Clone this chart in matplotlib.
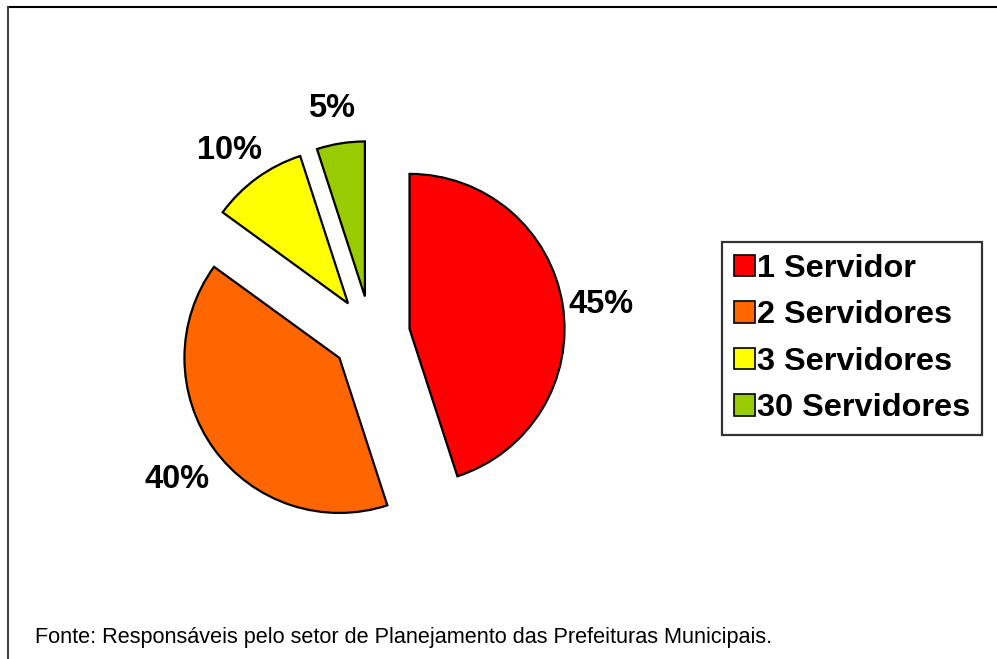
import matplotlib
matplotlib.use("Agg")
import matplotlib.pyplot as plt
from matplotlib.lines import Line2D

categories = ["1 Servidor", "2 Servidores", "3 Servidores", "30 Servidores"]
values = [45, 40, 10, 5]
colors = ["#FF0000", "#FF6600", "#FFFF00", "#99CC00"]
source_text = "Fonte: Responsáveis pelo setor de Planejamento das Prefeituras Municipais."

plt.rcParams['font.family'] = ['Liberation Sans', 'DejaVu Sans']

W, H = 997, 659
fig = plt.figure(figsize=(W / 100, H / 100), dpi=100)
ax = fig.add_axes([0, 0, 1, 1])

R = 155
wedges, texts, autotexts = ax.pie(
    values, colors=colors, startangle=90, counterclock=False,
    explode=[39] * 4, center=(371, H - 335), radius=R,
    autopct='%1.0f%%', pctdistance=1.27,
    wedgeprops=dict(edgecolor='black', linewidth=1.6),
    textprops=dict(fontsize=23.5, fontweight='bold', color='black'),
    frame=True,
)
for t in autotexts:
    x, y = t.get_position()
    t.set_position((x - 3, y - 6))
ax.set_xlim(0, W)
ax.set_ylim(0, H)
ax.set_aspect('auto')
ax.axis('off')

leg = fig.legend(wedges, categories, loc='upper left',
                 bbox_to_anchor=(722 / W, 1 - 242 / H),
                 prop=dict(size=23.4, weight='bold'),
                 frameon=True, fancybox=False, shadow=False,
                 edgecolor='black', handlelength=0.64, handleheight=0.64,
                 handletextpad=0.08, labelspacing=0.51, borderpad=0.36,
                 borderaxespad=0.0)
leg.get_frame().set_linewidth(1.6)
for h in leg.legend_handles:
    h.set_linewidth(1.2)

fig.text(35 / W, 1 - 637 / H, source_text, fontsize=15.6, va='center', ha='left')

# figure border (top and left)
fig.add_artist(Line2D([8 / W, 1], [1 - 7 / H, 1 - 7 / H], color='black', linewidth=1.5,
                      transform=fig.transFigure))
fig.add_artist(Line2D([8 / W, 8 / W], [0, 1 - 7 / H], color='#444444', linewidth=1.5,
                      transform=fig.transFigure))

fig.savefig("out.png", dpi=100)
